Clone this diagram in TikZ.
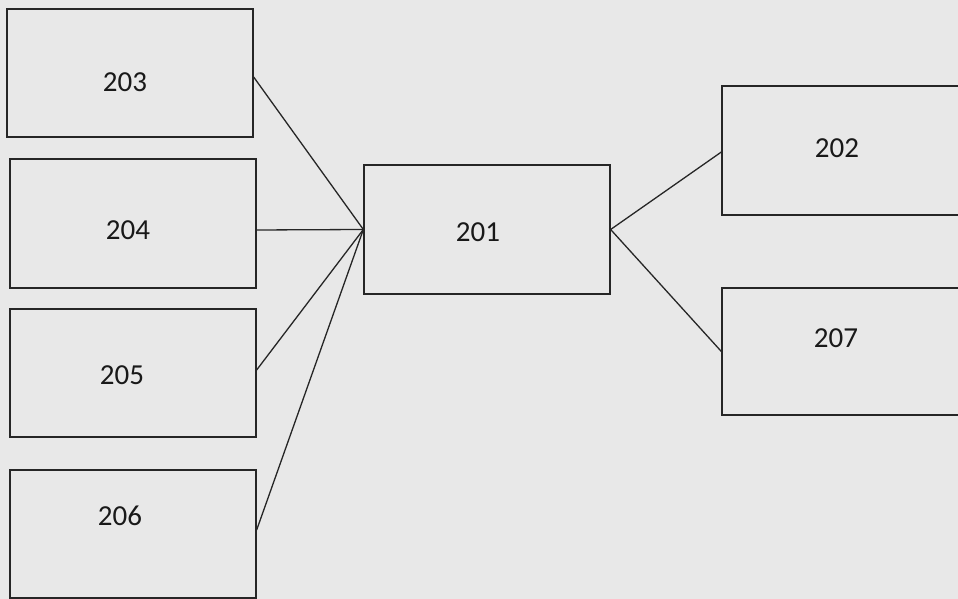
\documentclass[tikz,border=0pt]{standalone}
\usepackage{fontspec}
\setmainfont{Carlito}
\begin{document}
\begin{tikzpicture}[x=1pt,y=1pt,
  box/.style={draw=black!85,line width=1.3pt,minimum width=246pt,minimum height=128pt,inner sep=0pt},
  lbl/.style={font=\fontsize{29}{32}\selectfont,text=black!90,inner sep=0pt},
  link/.style={draw=black!85,line width=1.3pt}]
\useasboundingbox (0,0) rectangle (958,599);
\clip (0,0) rectangle (958,599);
\fill[black!9] (0,0) rectangle (958,599);
% boxes (y = 599 - image y)
\node[box] (b203) at (130,526) {};
\node[box,minimum height=129pt] (b204) at (133,375.5) {};
\node[box] (b205) at (133,226) {};
\node[box] (b206) at (133,65) {};
\node[box,minimum height=129pt] (b201) at (487,369.5) {};
\node[box,minimum width=258pt,minimum height=129pt] (b202) at (851,448.5) {};
\node[box,minimum width=258pt,minimum height=127pt] (b207) at (851,247.5) {};
% labels
\node[lbl] (t203) at (125,517) {203};
\node[lbl] (t204) at (128,369) {204};
\node[lbl] (t205) at (122,224) {205};
\node[lbl] (t206) at (120,83) {206};
\node[lbl] (t201) at (478,367) {201};
\node[lbl] (t202) at (837,451) {202};
\node[lbl] (t207) at (836,261) {207};
% connectors
\draw[link] ([yshift=-4pt]b203.east) -- (b201.west);
\draw[link] ([yshift=-6.5pt]b204.east) -- (b201.west);
\draw[link] ([yshift=3pt]b205.east) -- (b201.west);
\draw[link] ([yshift=4pt]b206.east) -- (b201.west);
\draw[link] (b201.east) -- ([yshift=-1.5pt]b202.west);
\draw[link] (b201.east) -- (b207.west);
\end{tikzpicture}
\end{document}
